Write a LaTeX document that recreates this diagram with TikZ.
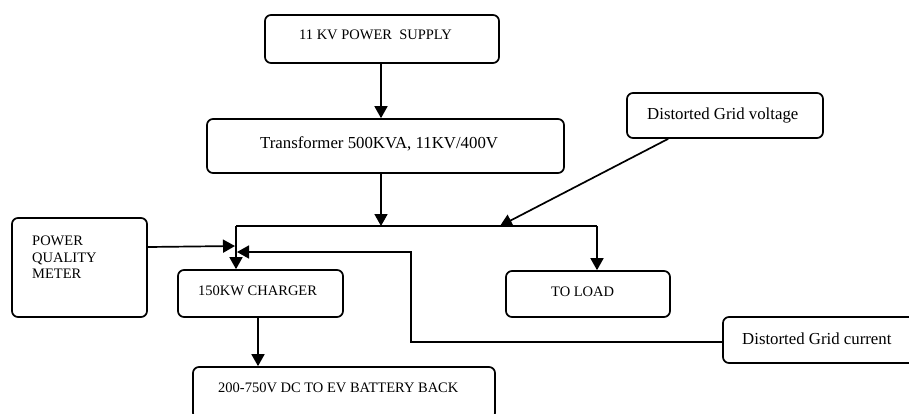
\documentclass[tikz,border=0pt]{standalone}
\usepackage{fontspec}
\setmainfont{Liberation Serif}
\usetikzlibrary{arrows.meta,calc}
\tikzset{
  box/.style={draw, line width=1.7pt, rounded corners=6pt, inner sep=0pt, fill=none},
  lbl/.style={inner sep=0pt, font=\fontsize{14.5}{16.5}\selectfont},
  lblbig/.style={inner sep=0pt, font=\fontsize{16.8}{19}\selectfont},
  conn/.style={line width=1.7pt},
  arr/.style={line width=1.7pt, -{Triangle[length=12pt,width=13pt]}},
}
\begin{document}
\begin{tikzpicture}[x=1pt,y=-1pt]
\useasboundingbox (0,0) rectangle (909,413);
\fill[white] (0,0) rectangle (909,413);
\clip (0,0) rectangle (909,413);
% boxes
\node[box, minimum width=234pt, minimum height=48pt] (sup) at (382,39) {};
\node[box, minimum width=357pt, minimum height=54pt] (tr) at (385.5,146) {};
\node[box, minimum width=196pt, minimum height=45pt] (dgv) at (725,115.5) {};
\node[box, minimum width=135pt, minimum height=99pt] (pqm) at (79.5,267.5) {};
\node[box, minimum width=165pt, minimum height=47pt] (chg) at (260.5,293.5) {};
\node[box, minimum width=164pt, minimum height=46pt] (load) at (588,294) {};
\node[box, minimum width=200pt, minimum height=46pt] (dgc) at (823,340) {};
\node[box, minimum width=302pt, minimum height=52pt] (bat) at (344,393) {};
% labels
\node[lbl, anchor=base west] (tsup) at (299,39) {11 KV POWER\ \ SUPPLY};
\node[lblbig, anchor=base west] (ttr) at (260,148) {Transformer 500KVA, 11KV/400V};
\node[lblbig, anchor=base west] (tdgv) at (647,119.5) {Distorted Grid voltage};
\node[lbl, anchor=north west, align=left] (tpqm) at (32,236) {POWER\\QUALITY\\METER};
\node[lbl, anchor=base west] (tchg) at (198,295.5) {150KW CHARGER};
\node[lbl, anchor=base west] (tload) at (551,296) {TO LOAD};
\node[lblbig, anchor=base west] (tdgc) at (742,344) {Distorted Grid current};
\node[lbl, anchor=base west] (tbat) at (218,392.7) {200-750V DC TO EV BATTERY BACK};
% junction coordinates
\coordinate (busL) at (236,226);
\coordinate (busT) at (381,226);
\coordinate (busR) at (597,226);
\coordinate (busV) at (500,226);
\coordinate (pqmEnd) at (235,246);
\coordinate (dgcEnd) at (237,252);
\coordinate (dgcCorner) at (411,252);
\coordinate (dgcStart) at (411,342);
% connectors
\draw[arr] (sup.south -| busT) -- (tr.north -| busT);
\draw[arr] (tr.south -| busT) -- (busT);
\draw[conn] (busL) -- (busR);
\draw[arr] (busR) -- (busR |- load.north);
\draw[arr] (busL) -- (busL |- chg.north);
\draw[arr] ($(dgv.south west)+(42,0)$) -- (busV);
\draw[arr] (pqm.east |- 0,247) -- (pqmEnd);
\draw[arr] (dgc.west |- dgcStart) -- (dgcStart) -- (dgcCorner) -- (dgcEnd);
\draw[arr] ([xshift=-2.5pt]chg.south) -- ([xshift=-2.5pt]chg.south |- bat.north);
\end{tikzpicture}
\end{document}
